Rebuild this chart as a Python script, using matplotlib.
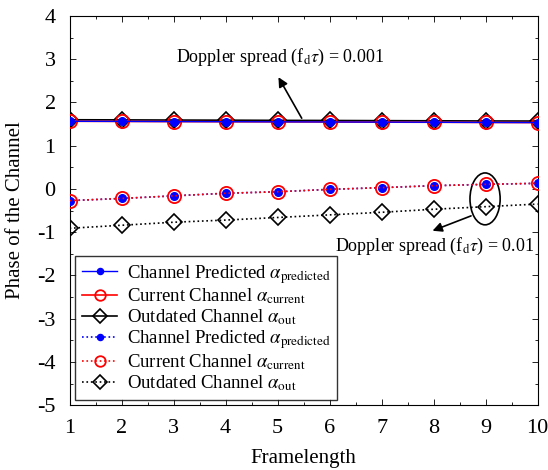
import numpy as np
import matplotlib.pyplot as plt
from matplotlib.patches import Ellipse
from matplotlib.ticker import MultipleLocator

plt.rcParams['font.family'] = ['Liberation Serif', 'DejaVu Serif']
plt.rcParams['mathtext.fontset'] = 'stix'
plt.rcParams['axes.unicode_minus'] = False

# Frame index and channel phase for the two Doppler spreads
frames = np.arange(1, 11)
pred_slow = [1.565, 1.562, 1.558, 1.555, 1.552, 1.549, 1.545, 1.542, 1.538, 1.535]
curr_slow = [1.565, 1.562, 1.558, 1.555, 1.552, 1.549, 1.545, 1.542, 1.538, 1.535]
out_slow = [1.60, 1.597, 1.593, 1.59, 1.586, 1.583, 1.579, 1.576, 1.572, 1.57]
pred_fast = [-0.27, -0.22, -0.16, -0.10, -0.065, -0.01, 0.03, 0.075, 0.106, 0.13]
curr_fast = [-0.27, -0.22, -0.16, -0.10, -0.065, -0.01, 0.03, 0.075, 0.106, 0.13]
out_fast = [-0.91, -0.84, -0.77, -0.72, -0.66, -0.60, -0.54, -0.47, -0.41, -0.35]

fig = plt.figure(figsize=(5.48, 4.70), dpi=100)
ax = fig.add_axes([0.127, 0.138, 0.854, 0.828])

ax.plot(frames, out_slow, '-', color='black', marker='D', ms=8.5, mfc='none', mew=1.2, lw=1.2,
        label=r'Outdated Channel $\alpha_{\mathrm{out}}$', zorder=3)
ax.plot(frames, curr_slow, '-', color='red', marker='o', ms=9.5, mfc='none', mew=1.3, lw=1.2,
        label=r'Current Channel $\alpha_{\mathrm{current}}$', zorder=4)
ax.plot(frames, pred_slow, '-', color='blue', marker='o', ms=5.5, lw=1.0,
        label=r'Channel Predicted $\alpha_{\mathrm{predicted}}$', zorder=5)

ax.plot(frames, out_fast, ':', color='black', marker='D', ms=8.5, mfc='none', mew=1.2, lw=1.2,
        label=r'Outdated Channel $\alpha_{\mathrm{out}}$', zorder=3)
ax.plot(frames, pred_fast, ':', color='blue', marker='o', ms=5.5, lw=1.2,
        label=r'Channel Predicted $\alpha_{\mathrm{predicted}}$', zorder=4)
ax.plot(frames, curr_fast, ':', color='red', marker='o', ms=9.5, mfc='none', mew=1.3, lw=1.2,
        label=r'Current Channel $\alpha_{\mathrm{current}}$', zorder=5)

ax.set_xlim(1, 10)
ax.set_ylim(-5, 4)
ax.xaxis.set_major_locator(MultipleLocator(1))
ax.xaxis.set_minor_locator(MultipleLocator(0.5))
ax.yaxis.set_major_locator(MultipleLocator(1))
ax.yaxis.set_minor_locator(MultipleLocator(0.5))
ax.tick_params(which='both', direction='in', top=True, right=True, labelsize=16, width=0.6)
ax.tick_params(which='major', length=4, pad=10)
ax.tick_params(which='minor', length=2)
ax.set_xlabel('Framelength', fontsize=15, labelpad=8)
ax.set_ylabel('Phase of the Channel', fontsize=15, labelpad=9)

handles, labels = ax.get_legend_handles_labels()
order = [2, 1, 0, 4, 5, 3]
leg = ax.legend([handles[i] for i in order], [labels[i] for i in order],
                loc='lower left', fontsize=13.5, fancybox=False, edgecolor='black',
                handlelength=1.9, handletextpad=0.5, borderaxespad=0.3,
                labelspacing=0.06, markerscale=0.8, borderpad=0.35)
leg.get_frame().set_linewidth(1.0)

ax.annotate(r'Doppler spread (f$_{\mathrm{d}}\tau$) = 0.001', xy=(5.05, 3.05),
            ha='center', va='center', fontsize=13)
ax.annotate('', xy=(4.99, 2.64), xytext=(5.49, 1.58),
            arrowprops=dict(arrowstyle='-|>', color='black', lw=1.2, mutation_scale=14))

ax.add_patch(Ellipse((8.99, -0.23), 0.58, 1.2, fill=False, edgecolor='black', lw=1.2))
ax.annotate('', xy=(7.93, -0.99), xytext=(8.77, -0.6),
            arrowprops=dict(arrowstyle='-|>', color='black', lw=1.2, mutation_scale=14))
ax.text(8.03, -1.34, r'Doppler spread (f$_{\mathrm{d}}\tau$) = 0.01', ha='center', va='center', fontsize=13)

fig.savefig('out.png', dpi=100)
